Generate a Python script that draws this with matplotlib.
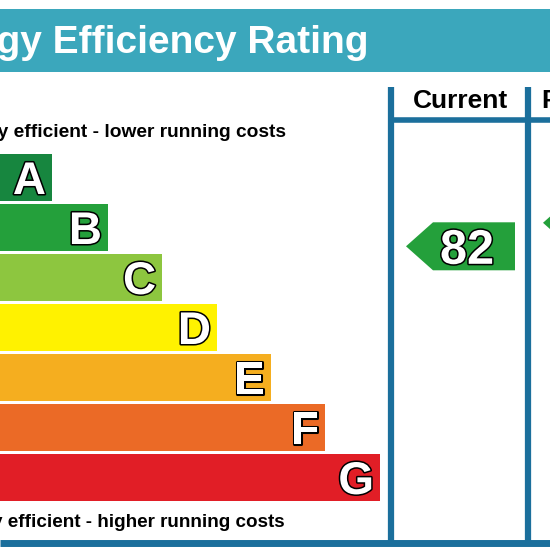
import matplotlib.pyplot as plt
from matplotlib.patches import Polygon, Rectangle
import matplotlib.patheffects as pe

# Bandas EPC
bandas = ["A", "B", "C", "D", "E", "F", "G"]
limites_alto = [100, 91, 80, 68, 54, 38, 20]
limites_bajo = [92, 81, 69, 55, 39, 21, 1]
colores = ["#17863f", "#24a03b", "#8dc63f", "#fff200", "#f5ae1f", "#eb6a26", "#e11e26"]
largo_barras = [52, 108, 162, 217, 271, 325, 380]

actual = 82
potencial = 87
encabezados = ["Current", "Potential"]

titulo = "Energy Efficiency Rating"
texto_arriba = "Very energy efficient - lower running costs"
texto_abajo = "Not energy efficient - higher running costs"

azul = "#1b6f9c"
fuente = "Liberation Sans"

fig = plt.figure(figsize=(5.5, 5.5), dpi=100)
ax = fig.add_axes([0, 0, 1, 1])
ax.set_xlim(0, 550)
ax.set_ylim(550, 0)
ax.axis("off")

# Banda del titulo
ax.add_patch(Rectangle((0, 9), 550, 63, color="#3ba7bc", lw=0))
ax.text(368, 53, titulo, ha="right", va="baseline", color="white",
        fontsize=28, fontweight="bold", family=fuente)

# Barras
alto_barra = 47
paso = 50
y0 = 154
contorno = [pe.withStroke(linewidth=2.2, foreground="black")]
for i, (b, c, w) in enumerate(zip(bandas, colores, largo_barras)):
    top = y0 + i * paso
    ax.barh(top + alto_barra / 2, w + 50, left=-50, height=alto_barra, color=c, lw=0)
    ax.text(w - 6, top + alto_barra / 2 + 16.5, b, ha="right", va="baseline",
            color="white", fontsize=33, fontweight="bold", family=fuente,
            path_effects=contorno)

ax.text(286, 137, texto_arriba, ha="right", va="baseline", fontsize=13.8,
        fontweight="bold", family=fuente, color="black")
ax.text(285, 527, texto_abajo, ha="right", va="baseline", fontsize=13.6,
        fontweight="bold", family=fuente, color="black")

# Columnas
col_x = [391, 528]
ancho_col = col_x[1] - col_x[0]
for x in col_x:
    ax.plot([x, x], [87, 543], color=azul, lw=4.5, solid_capstyle="butt")
ax.plot([col_x[0], 550], [120, 120], color=azul, lw=4, solid_capstyle="butt")
ax.plot([0, 550], [543, 543], color=azul, lw=5, solid_capstyle="butt")
for x, h in zip(col_x, encabezados):
    ax.text(x + ancho_col / 2 + 1, 108, h, ha="center", va="baseline",
            fontsize=19, fontweight="bold", family=fuente, color="black")


def y_valor(v):
    for i, (hi, lo) in enumerate(zip(limites_alto, limites_bajo)):
        if lo <= v <= hi:
            frac = (hi - v) / (hi - lo)
            return y0 + i * paso + frac * alto_barra, colores[i]
    return y0, colores[0]


def flecha(x_punta, v):
    yc, c = y_valor(v)
    h = 48
    pts = [(x_punta, yc), (x_punta + 27, yc - h / 2), (x_punta + 109, yc - h / 2),
           (x_punta + 109, yc + h / 2), (x_punta + 27, yc + h / 2)]
    ax.add_patch(Polygon(pts, closed=True, color=c, lw=0))
    ax.text(x_punta + 61, yc + 17.5, str(v), ha="center", va="baseline",
            color="white", fontsize=35, fontweight="bold", family=fuente,
            path_effects=contorno)


flecha(406, actual)
flecha(543, potencial)

fig.savefig("out.png", dpi=100)
